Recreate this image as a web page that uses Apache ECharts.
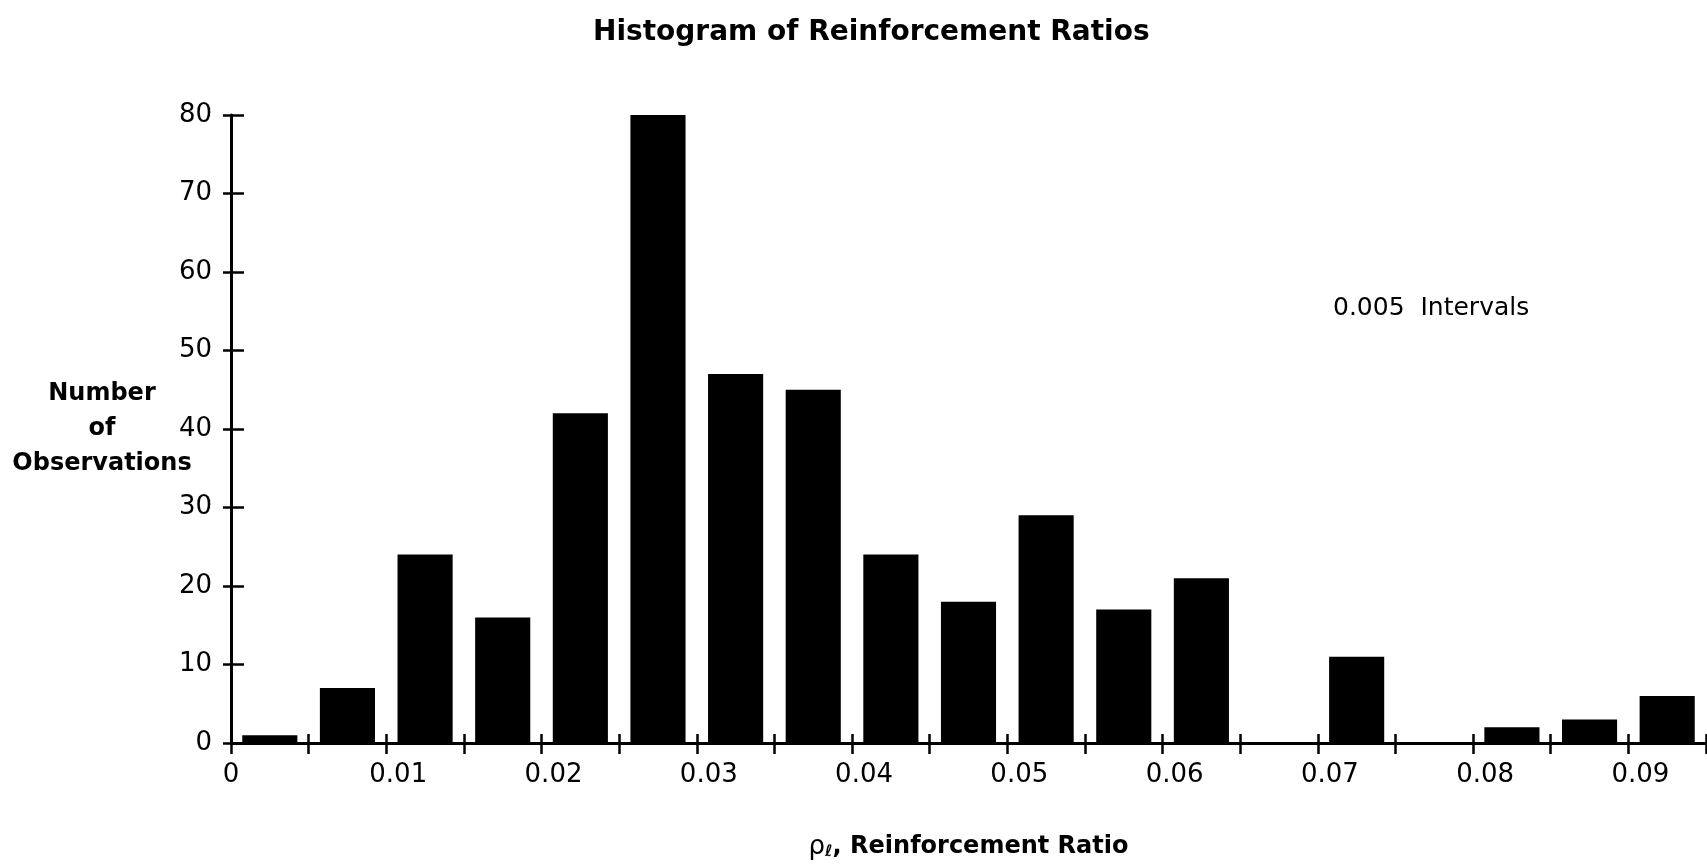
<!DOCTYPE html>
<html>
<head>
<meta charset="utf-8">
<title>Histogram of Reinforcement Ratios</title>
<script src="https://cdn.jsdelivr.net/npm/echarts@6/dist/echarts.min.js"></script>
<style>
  html, body { margin: 0; padding: 0; background: #fff; }
  #chart { width: 1707px; height: 864px; }
</style>
</head>
<body>
<div id="chart"></div>
<script>
// Histogram bins: lower edge of each 0.005-wide bin of the reinforcement ratio
const binStarts = [0, 0.005, 0.01, 0.015, 0.02, 0.025, 0.03, 0.035, 0.04, 0.045,
                   0.05, 0.055, 0.06, 0.065, 0.07, 0.075, 0.08, 0.085, 0.09];
// Number of observations falling in each bin
const counts = [1, 7, 24, 16, 42, 80, 47, 45, 24, 18, 29, 17, 21, 0, 11, 0, 2, 3, 6];
// Labels shown on every other x tick (every 0.01)
const xTickLabels = ['0', '0.01', '0.02', '0.03', '0.04', '0.05', '0.06', '0.07', '0.08', '0.09'];
// Y axis range
const yTicks = { min: 0, max: 80, step: 10 };
const binWidth = 0.005;
const xMax = 0.095;

const FONT = 'DejaVu Sans';
const INK = '#000';

function xLabel(v) {
  const k = Math.round(v / binWidth);
  if (k % 2 !== 0) return '';
  const t = xTickLabels[k / 2];
  if (t === undefined) return '';
  return k === 0 ? '{z|' + t + '}' : '{n|' + t + '}';
}

const valueX = (ticksInside, showLabels) => ({
  type: 'value',
  position: 'bottom',
  gridIndex: 0,
  min: 0,
  max: xMax,
  interval: binWidth,
  splitLine: { show: false },
  axisLine: { show: showLabels, onZero: false, lineStyle: { color: INK, width: 3 } },
  axisTick: { show: true, inside: ticksInside, length: ticksInside ? 9 : 11,
              lineStyle: { color: INK, width: 2.5 } },
  axisLabel: {
    show: showLabels,
    margin: 19,
    color: INK,
    fontFamily: FONT,
    fontSize: 26,
    formatter: xLabel,
    rich: {
      z: { fontFamily: FONT, fontSize: 26, color: INK },
      n: { fontFamily: FONT, fontSize: 26, color: INK, padding: [0, 0, 0, 24] }
    }
  }
});

const valueY = (ticksInside, showLabels) => ({
  type: 'value',
  position: 'left',
  min: yTicks.min,
  max: yTicks.max,
  interval: yTicks.step,
  splitLine: { show: false },
  axisLine: { show: showLabels, onZero: false, lineStyle: { color: INK, width: 3 } },
  axisTick: { show: true, inside: ticksInside, length: ticksInside ? 13 : 8,
              lineStyle: { color: INK, width: 2.5 } },
  axisLabel: { show: showLabels, margin: 19, color: INK, fontFamily: FONT, fontSize: 26 }
});

const xMain = valueX(false, true);
xMain.name = '{rho|ρ}{sub|ℓ}{txt|, Reinforcement Ratio}';
xMain.nameLocation = 'middle';
xMain.nameGap = 91;
xMain.nameMoveOverlap = false;
xMain.nameTextStyle = {
  color: INK,
  rich: {
    rho: { fontFamily: FONT, fontSize: 26, color: INK },
    sub: { fontFamily: FONT, fontSize: 16, fontStyle: 'italic', fontWeight: 'bold', color: INK,
           verticalAlign: 'bottom', padding: [10, 0, 0, 0] },
    txt: { fontFamily: FONT, fontSize: 24, fontWeight: 'bold', color: INK }
  }
};

const yMain = valueY(false, true);
yMain.name = 'Number\nof\nObservations';
yMain.nameLocation = 'middle';
yMain.nameRotate = 0;
yMain.nameGap = 129;
yMain.nameMoveOverlap = false;
yMain.nameTextStyle = {
  color: INK, fontFamily: FONT, fontSize: 24, fontWeight: 'bold',
  align: 'center', verticalAlign: 'middle', lineHeight: 35
};

const option = {
  backgroundColor: '#fff',
  animation: false,
  title: [
    {
      text: 'Histogram of Reinforcement Ratios',
      left: 588, top: 14,
      textStyle: { fontFamily: FONT, fontSize: 28, fontWeight: 'bold', color: INK }
    },
    {
      text: '0.005  Intervals',
      left: 1328, top: 291,
      textStyle: { fontFamily: FONT, fontSize: 25, fontWeight: 'normal', color: INK }
    }
  ],
  grid: {
    left: 231, right: 1, top: 115, bottom: 121,
    containLabel: false,
    outerBoundsMode: 'none'
  },
  xAxis: [
    xMain,
    valueX(true, false),
    {
      type: 'category',
      position: 'bottom',
      data: binStarts,
      boundaryGap: true,
      show: false
    }
  ],
  yAxis: [yMain, valueY(true, false)],
  series: [
    {
      type: 'bar',
      xAxisIndex: 2,
      yAxisIndex: 0,
      data: counts,
      barWidth: '71%',
      itemStyle: { color: INK },
      silent: true
    }
  ]
};

const chart = echarts.init(document.getElementById('chart'), null, { renderer: 'canvas' });
chart.setOption(option);
</script>
</body>
</html>
